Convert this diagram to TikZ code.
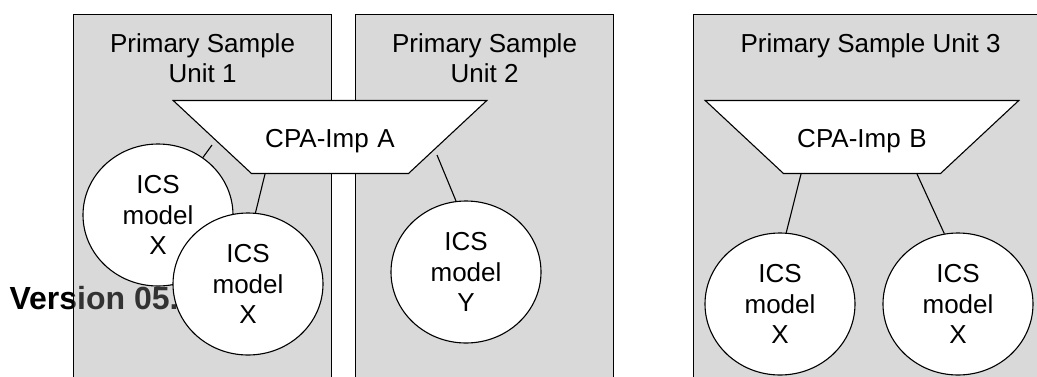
\documentclass[tikz,border=0pt]{standalone}
\usepackage{fontspec}
\setmainfont{Liberation Sans}
\usetikzlibrary{shapes.geometric,positioning}

\begin{document}
\begin{tikzpicture}[x=1pt,y=-1pt,line width=1.1pt,
    unitbox/.style={draw,fill=black!43,fill opacity=0.35,anchor=north west,minimum height=400pt,inner sep=0},
    title/.style={font=\fontsize{26}{30.5}\selectfont,align=center,inner sep=0},
    imp/.style={draw,fill=white,trapezium,trapezium angle=43,shape border rotate=180,text width=131pt,align=center,text height=22pt,text depth=2pt,inner xsep=13pt,inner ysep=24.5pt,font=\fontsize{26}{30.5}\selectfont},
    ics/.style={draw,fill=white,ellipse,minimum width=150pt,minimum height=142pt,inner sep=0,align=center,font=\fontsize{26}{30.5}\selectfont}]
        \clip (0,0) rectangle (1037,376);
        \node[anchor=base west,inner sep=0,font=\fontsize{32}{36}\selectfont\bfseries] (ver) at (9,309) {Version 05.};
        \node[unitbox,minimum width=258pt] (psu1) at (73,14) {};
        \node[unitbox,minimum width=258pt] (psu2) at (355,14) {};
        \node[unitbox,minimum width=354pt] (psu3) at (693,14) {};
        \node[title,below=19pt of psu1.north] (t1) {Primary Sample\\Unit 1};
        \node[title,below=19pt of psu2.north] (t2) {Primary Sample\\Unit 2};
        \node[title,below=19pt of psu3.north] (t3) {Primary Sample Unit 3};
        \node[imp] (impA) at (330,137) {CPA-Imp A};
        \node[imp] (impB) at (862,137) {CPA-Imp B};
        \node[ics] (x1) at (158,215) {ICS\\model\\X};
        \node[ics] (x2) at (248,284) {ICS\\model\\X};
        \node[ics] (y1) at (466,272) {ICS\\model\\Y};
        \node[ics] (x3) at (780,304) {ICS\\model\\X};
        \node[ics] (x4) at (958,304) {ICS\\model\\X};
        \coordinate (a1) at (212,145);
        \coordinate (a2) at (265,174);
        \coordinate (a3) at (437,155);
        \coordinate (b1) at (801,174);
        \coordinate (b2) at (917,174);
        \draw (x1.52) -- (a1);
        \draw (x2.84) -- (a2);
        \draw (y1.98) -- (a3);
        \draw (x3.85) -- (b1);
        \draw (x4.101) -- (b2);
    \end{tikzpicture}
\end{document}
